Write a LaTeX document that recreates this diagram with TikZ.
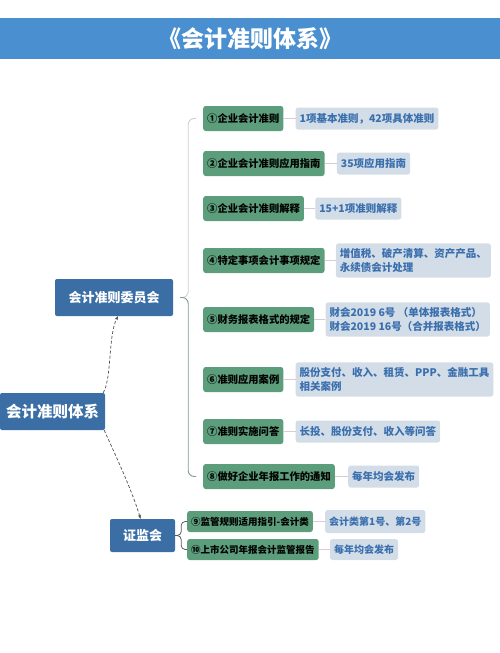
\documentclass[tikz,border=0pt]{standalone}
\usepackage{fontspec}
\setmainfont{Noto Sans CJK SC}
\usetikzlibrary{arrows.meta,positioning}
\definecolor{titlebar}{HTML}{4A8FCF}
\definecolor{headblue}{HTML}{3A6EA5}
\definecolor{itemgreen}{HTML}{5C9E7B}
\definecolor{notefill}{HTML}{D3DDE7}
\definecolor{notetext}{HTML}{3A6FAE}
\definecolor{linktop}{HTML}{D6CCD2}
\definecolor{linkbot}{HTML}{7C9C8E}

\begin{document}
\begin{tikzpicture}[x=1pt,y=-1pt,
  head/.style={fill=headblue, rounded corners=2pt, text=white, inner sep=0pt, font=\fontsize{13}{15}\selectfont\bfseries},
  item/.style={fill=itemgreen, rounded corners=2.5pt, anchor=west, minimum height=25pt, inner xsep=4pt, inner ysep=2pt, font=\fontsize{10.3}{12}\selectfont\bfseries},
  subitem/.style={item, minimum height=21pt, font=\fontsize{9.5}{11}\selectfont\bfseries},
  note/.style={fill=notefill, rounded corners=2.5pt, text=notetext, align=left, minimum height=22pt, inner xsep=4pt, inner ysep=5pt, font=\fontsize{10.5}{14}\selectfont\bfseries},
  link/.style={linktop, line width=0.8pt},
  dasharr/.style={-{Stealth[length=4pt,width=3pt]}, gray!60!black, line width=0.7pt, dash pattern=on 3pt off 2pt}]
  \useasboundingbox (0,0) rectangle (500,653);
  % title bar
  \node[fill=titlebar, minimum width=500pt, minimum height=41pt, inner sep=0pt, text=white, font=\fontsize{23}{26}\selectfont\bfseries] (title) at (250,38.5) {《会计准则体系》};
  % heads
  \node[head, minimum width=105pt, minimum height=37pt, font=\fontsize{15.5}{18}\selectfont\bfseries] (root) at (52.5,411.5) {会计准则体系};
  \node[head, minimum width=118pt, minimum height=37pt] (cmt) at (114,297.5) {会计准则委员会};
  \node[head, minimum width=65pt, minimum height=33pt] (csrc) at (142.5,535.5) {证监会};
  % standards committee items
  \node[item] (n1) at (203,118.5) {①企业会计准则};
  \node[item] (n2) at (203,163.5) {②企业会计准则应用指南};
  \node[item] (n3) at (203,208.5) {③企业会计准则解释};
  \node[item] (n4) at (203,260.5) {④特定事项会计事项规定};
  \node[item] (n5) at (203,319.5) {⑤财务报表格式的规定};
  \node[item] (n6) at (203,379.5) {⑥准则应用案例};
  \node[item] (n7) at (203,431.5) {⑦准则实施问答};
  \node[item] (n8) at (203,476.5) {⑧做好企业年报工作的通知};
  % csrc items
  \node[subitem] (n9) at (187,521.5) {⑨监管规则适用指引-会计类};
  \node[subitem] (n10) at (187,549.5) {⑩上市公司年报会计监管报告};
  % notes
  \node[note, right=12pt of n1] (d1) {1项基本准则，42项具体准则};
  \node[note, right=12pt of n2] (d2) {35项应用指南};
  \node[note, right=11pt of n3] (d3) {15+1项准则解释};
  \node[note, right=11pt of n4] (d4) {增值税、破产清算、资产产品、\\永续债会计处理};
  \node[note, right=11pt of n5] (d5) {财会2019 6号 （单体报表格式）\\财会2019 16号（合并报表格式）};
  \node[note, right=12pt of n6] (d6) {股份支付、收入、租赁、PPP、金融工具\\相关案例};
  \node[note, right=12pt of n7] (d7) {长投、股份支付、收入等问答};
  \node[note, right=13pt of n8] (d8) {每年均会发布};
  \node[note, right=12pt of n9, minimum height=23pt, font=\fontsize{10}{12}\selectfont\bfseries] (d9) {会计类第1号、第2号};
  \node[note, right=11pt of n10, minimum height=21pt, font=\fontsize{10}{12}\selectfont\bfseries] (d10) {每年均会发布};
  \foreach \i in {1,...,10}
    \draw[link] (n\i.east) -- (d\i.west);
  % brace of the committee
  \coordinate (tip) at ([xshift=7pt]cmt.east);
  \draw[linktop, line width=0.9pt, rounded corners=6pt] (tip) -- ++(8,0) |- ([xshift=-7pt]n1.west);
  \draw[linkbot, line width=0.9pt, rounded corners=6pt] (tip) -- ++(8,0) |- ([xshift=-7pt]n8.west);
  % brace of the csrc
  \draw[gray!70!black, line width=0.8pt, rounded corners=4pt] (csrc.east) -- ++(6,0) |- (n9.west);
  \draw[gray!70!black, line width=0.8pt, rounded corners=4pt] (csrc.east) -- ++(6,0) |- (n10.west);
  % dashed links from the root
  \draw[dasharr] ([xshift=-2pt]root.north east) .. controls (112,378) and (108,335) .. ([xshift=4pt]cmt.south);
  \draw[dasharr] ([xshift=-1pt]root.south east) .. controls (114,452) and (132,490) .. ([xshift=-2pt]csrc.north);
\end{tikzpicture}
\end{document}
